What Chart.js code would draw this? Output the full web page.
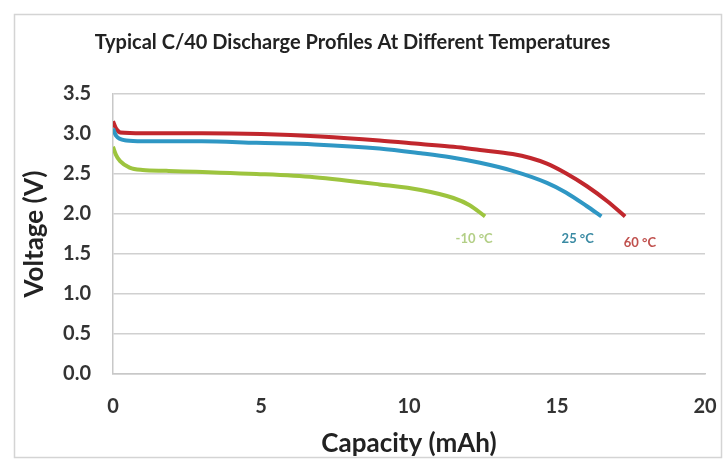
<!DOCTYPE html>
<html>
<head>
<meta charset="utf-8">
<script src="https://cdn.jsdelivr.net/npm/chart.js@4/dist/chart.umd.min.js"></script>
<style>
  html, body { margin: 0; padding: 0; background: #fff; }
  #wrap { width: 727px; height: 469px; }
</style>
</head>
<body>
<div id="wrap"><canvas id="dischargeChart" width="727" height="469"></canvas></div>
<script>
// capacity (mAh) / voltage (V)
const capacityHot = [0, 0.1, 0.25, 1, 3, 5, 7, 9, 10.4, 11.5, 12.4, 13.5, 14.1, 14.66, 15.3, 16.0, 16.7, 17.3];
const voltageHot = [3.16, 3.07, 3.02, 3.01, 3.01, 3.0, 2.97, 2.92, 2.875, 2.84, 2.8, 2.75, 2.7, 2.63, 2.51, 2.35, 2.16, 1.97];

const capacityRoom = [0, 0.1, 0.45, 1, 3, 4.85, 6.8, 9, 10.4, 11.4, 12.4, 13.5, 14.66, 15.3, 16.0, 16.5];
const voltageRoom = [3.07, 2.98, 2.92, 2.91, 2.91, 2.89, 2.87, 2.82, 2.76, 2.71, 2.64, 2.54, 2.39, 2.27, 2.1, 1.97];

const capacityCold = [0, 0.1, 0.24, 0.56, 1, 1.8, 4.85, 6.8, 9, 10.4, 11.5, 12.05, 12.57];
const voltageCold = [2.84, 2.74, 2.66, 2.58, 2.55, 2.54, 2.5, 2.46, 2.37, 2.3, 2.2, 2.11, 1.97];

const seriesNames = ['-10 \u00B0C', '25 \u00B0C', '60 \u00B0C'];
const seriesColors = ['#9dc43e', '#2f97c4', '#c1272d'];
const labelColors = ['#b3cf86', '#3a8aa3', '#c0504d'];
// where each curve's note sits, in data units
const labelX = [12.2, 15.7, 17.8];
const labelY = [1.69, 1.69, 1.64];

const xTicks = [0, 5, 10, 15, 20];

function toPoints(xs, ys) {
    return xs.map((x, i) => ({ x: x, y: ys[i] }));
}

const frame = {
    id: 'frame',
    beforeDraw(chart) {
        const ctx = chart.ctx;
        ctx.save();
        ctx.fillStyle = '#fff';
        ctx.fillRect(0, 0, chart.width, chart.height);
        ctx.strokeStyle = '#d4d4d4';
        ctx.lineWidth = 1.5;
        ctx.strokeRect(14.5, 14.5, chart.width - 20, chart.height - 26);
        ctx.restore();
    }
};

const curveNotes = {
    id: 'curveNotes',
    afterDatasetsDraw(chart) {
        const ctx = chart.ctx;
        const xs = chart.scales.x, ys = chart.scales.y;
        ctx.save();
        ctx.font = 'bold 13px Lato';
        ctx.textAlign = 'center';
        ctx.textBaseline = 'middle';
        seriesNames.forEach((name, i) => {
            ctx.fillStyle = labelColors[i];
            ctx.fillText(name, xs.getPixelForValue(labelX[i]), ys.getPixelForValue(labelY[i]));
        });
        ctx.restore();
    }
};

const cfg = {
    type: 'scatter',
    data: {
        datasets: [
            { label: seriesNames[0], data: toPoints(capacityCold, voltageCold), borderColor: seriesColors[0] },
            { label: seriesNames[1], data: toPoints(capacityRoom, voltageRoom), borderColor: seriesColors[1] },
            { label: seriesNames[2], data: toPoints(capacityHot, voltageHot), borderColor: seriesColors[2] }
        ].map(d => Object.assign(d, {
            showLine: true,
            pointRadius: 0,
            borderWidth: 4,
            cubicInterpolationMode: 'monotone',
            fill: false
        }))
    },
    options: {
        responsive: false,
        animation: false,
        layout: { padding: { left: 0, right: 22, top: 0, bottom: 5 } },
        plugins: {
            legend: { display: false },
            tooltip: { enabled: false },
            title: {
                display: true,
                text: 'Typical C/40 Discharge Profiles At Different Temperatures',
                color: '#222',
                font: { family: 'Lato', size: 20, weight: 'bold' },
                padding: { top: 31, bottom: 39 }
            }
        },
        scales: {
            x: {
                type: 'linear',
                min: 0,
                max: 20,
                afterFit(scale) {
                    scale.height = 90;
                    scale.paddingRight = 0;
                },
                afterBuildTicks(scale) { scale.ticks = xTicks.map(v => ({ value: v })); },
                grid: { drawOnChartArea: false, drawTicks: false },
                border: { color: '#c8c8c8', width: 1.5 },
                ticks: {
                    color: '#333',
                    padding: 21,
                    font: { family: 'Lato', size: 20, weight: 'bold' }
                },
                title: {
                    display: true,
                    text: 'Capacity (mAh)',
                    color: '#222',
                    font: { family: 'Lato', size: 26, weight: 'bold' },
                    padding: { top: 0, bottom: 5 }
                }
            },
            y: {
                min: 0,
                max: 3.5,
                afterFit(scale) { scale.width = 113; },
                grid: { color: '#d0d0d0', lineWidth: 1.5, drawTicks: false },
                border: { color: '#c8c8c8', width: 1.5 },
                ticks: {
                    stepSize: 0.5,
                    color: '#333',
                    padding: 22,
                    font: { family: 'Lato', size: 20, weight: 'bold' },
                    callback: v => v.toFixed(1)
                },
                title: {
                    display: true,
                    text: 'Voltage (V)',
                    color: '#222',
                    font: { family: 'Lato', size: 26, weight: 'bold' },
                    padding: { top: 19, bottom: 0 }
                }
            }
        }
    },
    plugins: [frame, curveNotes]
};

new Chart(document.getElementById('dischargeChart').getContext('2d'), cfg);
</script>
</body>
</html>
